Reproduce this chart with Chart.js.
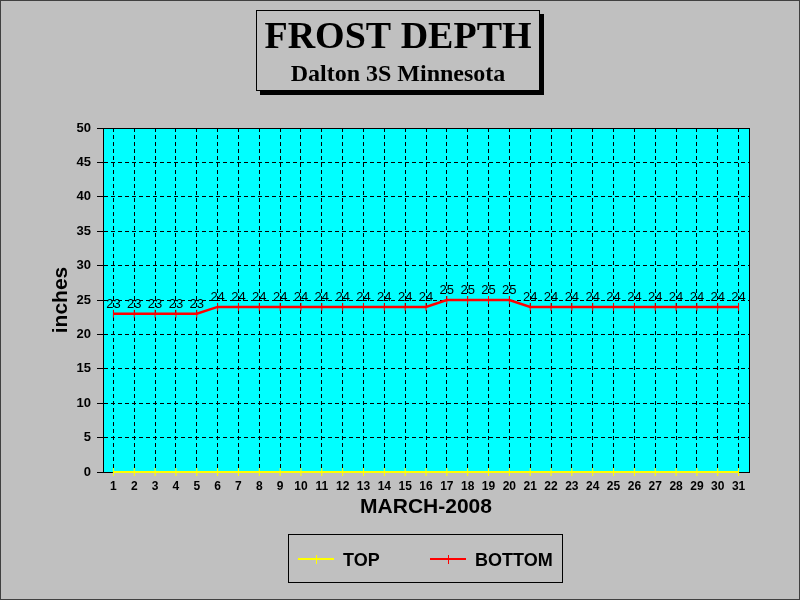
<!DOCTYPE html>
<html>
<head>
<meta charset="utf-8">
<script src="https://cdn.jsdelivr.net/npm/chart.js@4"></script>
<style>
html,body{margin:0;padding:0;background:#c0c0c0;}
#wrap{width:800px;height:600px;position:relative;}
</style>
</head>
<body>
<div id="wrap"><canvas id="c" width="800" height="600"></canvas></div>
<script>
const chartTitle = "FROST DEPTH";
const chartSubtitle = "Dalton 3S Minnesota";
const xAxisTitle = "MARCH-2008";
const yAxisTitle = "inches";
const days = ["1","2","3","4","5","6","7","8","9","10","11","12","13","14","15","16","17","18","19","20","21","22","23","24","25","26","27","28","29","30","31"];
const topDepth = [0,0,0,0,0,0,0,0,0,0,0,0,0,0,0,0,0,0,0,0,0,0,0,0,0,0,0,0,0,0,0];
const bottomDepth = [23,23,23,23,23,24,24,24,24,24,24,24,24,24,24,24,25,25,25,25,24,24,24,24,24,24,24,24,24,24,24];
const seriesNames = ["TOP","BOTTOM"];
const seriesColors = ["#ffff00","#ff0000"];

const decor = {
  id: 'decor',
  beforeDraw(chart) {
    const ctx = chart.ctx;
    const a = chart.chartArea;
    ctx.save();
    ctx.fillStyle = '#c0c0c0';
    ctx.fillRect(0,0,chart.width,chart.height);
    ctx.fillStyle = '#00ffff';
    ctx.fillRect(a.left, a.top, a.right-a.left, a.bottom-a.top);
    ctx.restore();
  },
  beforeDatasetsDraw(chart) {
    const ctx = chart.ctx;
    const a = chart.chartArea;
    ctx.save();
    ctx.strokeStyle = '#000';
    ctx.lineWidth = 1;
    ctx.strokeRect(Math.round(a.left)+0.5, Math.round(a.top)+0.5, Math.round(a.right-a.left), Math.round(a.bottom-a.top));
    ctx.restore();
  },
  afterDraw(chart) {
    const ctx = chart.ctx;
    ctx.save();
    // outer border
    ctx.strokeStyle = '#404040';
    ctx.lineWidth = 1;
    ctx.strokeRect(0.5,0.5,chart.width-1,chart.height-1);

    // data labels for BOTTOM
    const meta = chart.getDatasetMeta(1);
    ctx.fillStyle = '#000';
    ctx.font = '13px Arial, "Liberation Sans", sans-serif';
    ctx.textAlign = 'center';
    ctx.textBaseline = 'alphabetic';
    meta.data.forEach((pt, i) => {
      ctx.fillText(String(bottomDepth[i]), pt.x, pt.y - 6);
    });

    // title box
    ctx.fillStyle = '#000';
    ctx.fillRect(260, 14, 284, 81);
    ctx.fillStyle = '#c0c0c0';
    ctx.fillRect(256, 10, 284, 81);
    ctx.strokeStyle = '#000';
    ctx.lineWidth = 1;
    ctx.strokeRect(256.5, 10.5, 283, 80);
    ctx.fillStyle = '#000';
    ctx.textAlign = 'center';
    ctx.font = 'bold 38px "Times New Roman", "Liberation Serif", serif';
    ctx.fillText(chartTitle, 398, 48);
    ctx.font = 'bold 24px "Times New Roman", "Liberation Serif", serif';
    ctx.fillText(chartSubtitle, 398, 81);

    // legend box
    ctx.strokeStyle = '#000';
    ctx.strokeRect(288.5, 534.5, 274, 48);
    const items = [{x:298, tx:343},{x:430, tx:475}];
    items.forEach((it, i) => {
      ctx.strokeStyle = seriesColors[i];
      ctx.lineWidth = 2;
      ctx.beginPath(); ctx.moveTo(it.x, 559); ctx.lineTo(it.x+36, 559); ctx.stroke();
      ctx.lineWidth = 1;
      ctx.beginPath(); ctx.moveTo(it.x+18.5, 555); ctx.lineTo(it.x+18.5, 564); ctx.stroke();
      ctx.fillStyle = '#000';
      ctx.font = 'bold 18px Arial, "Liberation Sans", sans-serif';
      ctx.textAlign = 'left';
      ctx.fillText(seriesNames[i], it.tx, 566);
    });
    ctx.restore();
  }
};

new Chart(document.getElementById('c'), {
  type: 'line',
  data: {
    labels: days,
    datasets: [
      {
        label: seriesNames[0], data: topDepth,
        borderColor: seriesColors[0], backgroundColor: seriesColors[0],
        borderWidth: 2, pointStyle: 'line', pointRotation: 90, pointRadius: 4,
        pointBorderWidth: 1, pointBorderColor: seriesColors[0], tension: 0, clip: false
      },
      {
        label: seriesNames[1], data: bottomDepth,
        borderColor: seriesColors[1], backgroundColor: seriesColors[1],
        borderWidth: 2.5, pointStyle: 'line', pointRotation: 90, pointRadius: 4,
        pointBorderWidth: 1, pointBorderColor: seriesColors[1], tension: 0, clip: false
      }
    ]
  },
  options: {
    responsive: false,
    animation: false,
    events: [],
    layout: { padding: { left: 40, top: 128, right: 51, bottom: 80 } },
    plugins: { legend: { display: false }, title: { display: false }, tooltip: { enabled: false } },
    scales: {
      x: {
        offset: true,
        grid: { offset: false, color: '#000', lineWidth: 1, drawTicks: false },
        border: { display: true, color: '#000', width: 1, dash: [4,3] },
        ticks: { color: '#000', font: { family: 'Arial, "Liberation Sans", sans-serif', size: 12, weight: 'bold' }, padding: 7, maxRotation: 0, autoSkip: false },
        title: { display: true, text: xAxisTitle, color: '#000', font: { family: 'Arial, "Liberation Sans", sans-serif', size: 21, weight: 'bold' }, padding: 0 },
        afterFit(s) { s.height = 48; }
      },
      y: {
        min: 0, max: 50,
        grid: { color: '#000', lineWidth: 1, tickLength: 6, tickColor: '#000', tickBorderDash: [] },
        border: { display: true, color: '#000', width: 1, dash: [4,3] },
        ticks: { stepSize: 5, color: '#000', font: { family: 'Arial, "Liberation Sans", sans-serif', size: 13, weight: 'bold' }, padding: 6 },
        title: { display: true, text: yAxisTitle, color: '#000', font: { family: 'Arial, "Liberation Sans", sans-serif', size: 21, weight: 'bold' }, padding: { top: 9, bottom: 0 } },
        afterFit(s) { s.width = 63; }
      }
    }
  },
  plugins: [decor]
});
</script>
</body>
</html>
